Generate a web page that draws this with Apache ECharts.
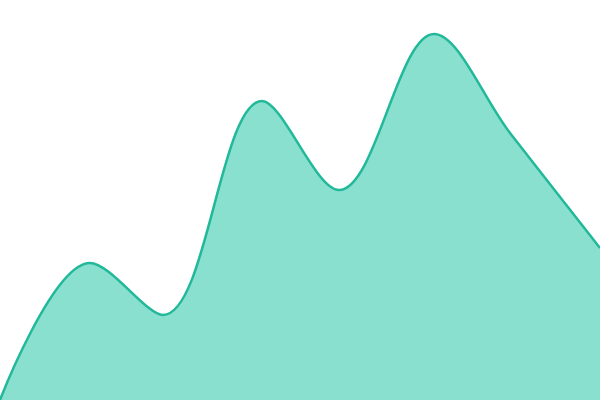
<!DOCTYPE html>
<html>
<head>
<meta charset="utf-8">
<script src="https://cdn.jsdelivr.net/npm/echarts@6/dist/echarts.min.js"></script>
<style>html,body{margin:0;padding:0;background:#fff}#c{width:600px;height:400px}</style>
</head>
<body>
<div id="c"></div>
<script>
const xValues = [0, 90, 163, 262, 339, 434, 510, 600];
const yValues = [0, 137, 85, 299, 210, 366, 267, 152];

const chart = echarts.init(document.getElementById('c'));
chart.setOption({
  animation: false,
  grid: { left: 0, right: 0, top: 0, bottom: 0 },
  xAxis: { type: 'value', min: 0, max: 600, show: false },
  yAxis: { type: 'value', min: 0, max: 400, show: false },
  series: [{
    type: 'line',
    data: xValues.map((x, i) => [x, yValues[i]]),
    smooth: 0.35,
    symbol: 'none',
    lineStyle: { color: '#22b89a', width: 2.5 },
    areaStyle: { color: '#89e0cf', opacity: 1 }
  }]
});
</script>
</body>
</html>
